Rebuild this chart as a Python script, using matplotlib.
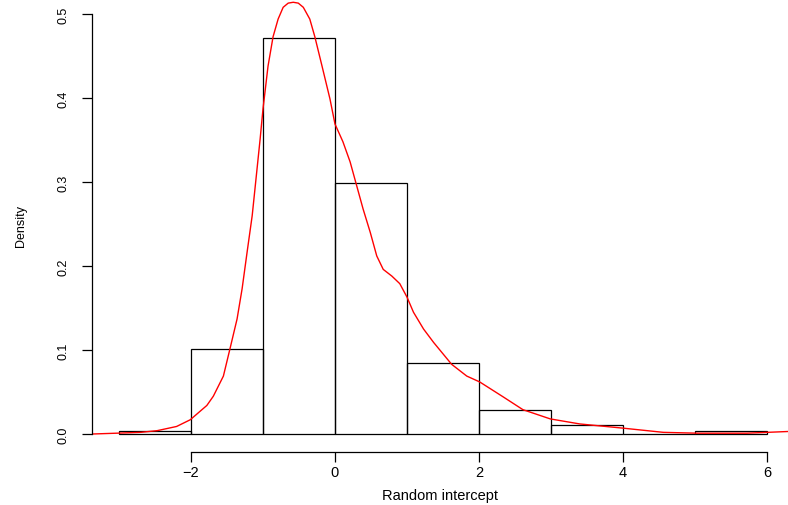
import numpy as np
import matplotlib
matplotlib.use('Agg')
import matplotlib.pyplot as plt

plt.rcParams['font.family'] = ['Liberation Sans', 'DejaVu Sans']

# histogram bins (width 1) and density heights
bin_left = [-3, -2, -1, 0, 1, 2, 3, 4, 5]
bin_density = [0.0036, 0.101, 0.472, 0.299, 0.084, 0.0286, 0.011, 0.0, 0.0036]

# kernel density curve, read point by point
kde_x = [-3.375, -3.03, -2.7, -2.47, -2.2, -2.01, -1.875, -1.78, -1.69, -1.55,
         -1.46, -1.36, -1.29, -1.22, -1.15, -1.04, -1.0, -0.93, -0.86, -0.79,
         -0.72, -0.65, -0.58, -0.51, -0.44, -0.35, -0.28, -0.18, -0.07, 0.0,
         0.11, 0.21, 0.30, 0.39, 0.49, 0.58, 0.67, 0.79, 0.90, 1.0, 1.09, 1.23,
         1.37, 1.62, 1.83, 2.01, 2.34, 2.61, 2.99, 3.4, 4.0, 4.56, 5.03, 5.72,
         6.29]
kde_y = [0.0, 0.001, 0.002, 0.004, 0.009, 0.017, 0.027, 0.034, 0.045, 0.069,
         0.101, 0.137, 0.173, 0.217, 0.260, 0.351, 0.387, 0.438, 0.473, 0.494,
         0.508, 0.513, 0.514, 0.513, 0.508, 0.494, 0.473, 0.438, 0.399, 0.369,
         0.348, 0.324, 0.296, 0.268, 0.240, 0.212, 0.196, 0.188, 0.179, 0.163,
         0.145, 0.125, 0.109, 0.083, 0.069, 0.062, 0.044, 0.029, 0.018, 0.012,
         0.007, 0.002, 0.001, 0.001, 0.003]

x_ticks = [-2, 0, 2, 4, 6]
y_ticks = [0.0, 0.1, 0.2, 0.3, 0.4, 0.5]
y_tick_labels = ['0.0', '0.1', '0.2', '0.3', '0.4', '0.5']

fig = plt.figure(figsize=(7.88, 5.06), dpi=100)
ax = fig.add_axes([92 / 788, 53 / 506, 696 / 788, 453 / 506])

ax.bar(bin_left, bin_density, width=1, align='edge', fill=False,
       edgecolor='black', linewidth=0.9)
ax.plot(kde_x, kde_y, color='red', linewidth=1.0)

ax.set_xlim(-3.375, 6.292)
ax.set_ylim(-0.0214, 0.5179)

for s in ['top', 'right']:
    ax.spines[s].set_visible(False)
ax.spines['left'].set_bounds(0, 0.5)
ax.spines['bottom'].set_bounds(-2, 6)
ax.spines['left'].set_linewidth(0.9)
ax.spines['bottom'].set_linewidth(0.9)

ax.set_xticks(x_ticks)
ax.set_xticklabels(['\u22122', '0', '2', '4', '6'])
ax.set_yticks(y_ticks)
ax.set_yticklabels(y_tick_labels)
ax.tick_params(axis='x', length=7.5, width=0.9, pad=2, labelsize=10.5)
ax.tick_params(axis='y', length=7.5, width=0.9, pad=9, labelsize=9, labelrotation=90)
for lab in ax.get_yticklabels():
    lab.set_va('center')

ax.set_xlabel('Random intercept', fontsize=10.5, labelpad=6)
ax.set_ylabel('Density', fontsize=9, labelpad=22)

fig.savefig('out.png', dpi=100)
